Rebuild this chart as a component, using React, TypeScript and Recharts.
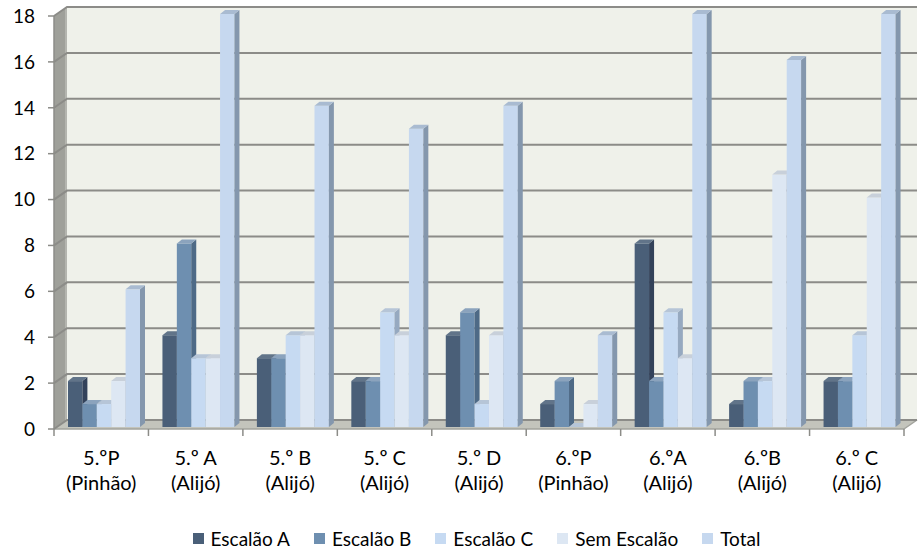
import React from 'react';
import { BarChart, Bar, XAxis, YAxis, CartesianGrid, Legend } from 'recharts';

const classes = ['5.ºP', '5.º A', '5.º B', '5.º C', '5.º D', '6.ºP', '6.ºA', '6.ºB', '6.º C'];
const schools = ['(Pinhão)', '(Alijó)', '(Alijó)', '(Alijó)', '(Alijó)', '(Pinhão)', '(Alijó)', '(Alijó)', '(Alijó)'];
const escalaoA = [2, 4, 3, 2, 4, 1, 8, 1, 2];
const escalaoB = [1, 8, 3, 2, 5, 2, 2, 2, 2];
const escalaoC = [1, 3, 4, 5, 1, 0, 5, 2, 4];
const semEscalao = [2, 3, 4, 4, 4, 1, 3, 11, 10];
const total = [6, 18, 14, 13, 14, 4, 18, 16, 18];
const yTicks = [0, 2, 4, 6, 8, 10, 12, 14, 16, 18];

const seriesNames = ['Escalão A', 'Escalão B', 'Escalão C', 'Sem Escalão', 'Total'];
const seriesKeys = ['a', 'b', 'c', 's', 't'];

const data = classes.map((c, i) => ({
  cls: c,
  school: schools[i],
  a: escalaoA[i],
  b: escalaoB[i],
  c: escalaoC[i],
  s: semEscalao[i],
  t: total[i],
}));

const FONT = 'Lato, "DejaVu Sans", sans-serif';
const W = 921;
const H = 551;
const XH = 30;
const M = { top: 16, right: 17, bottom: 122 - XH, left: 0 };
const YW = 54;
const PL = M.left + YW;
const PR = W - M.right;
const PT = M.top;
const PB = H - M.bottom - XH;
const BX = 13; // depth offset x
const BY = 9; // depth offset y

const styles = [
  { face: '#4a5f78', side: '#33425a', top: '#617489' },
  { face: '#6e8fb0', side: '#4e6a86', top: '#8ba3bd' },
  { face: '#c6daf2', side: '#96a9c0', top: '#b6c5d7' },
  { face: '#dde7f3', side: '#abb6c4', top: '#c8d0da' },
  { face: '#c6d8ef', side: '#8497ad', top: '#a9bbd1' },
];

const DX = 3;
const DY = 2;
const SD = 5;
const SV = 4;

const makeShape = (st: { face: string; side: string; top: string }) => (p: any) => {
  const { x, y, width: w } = p;
  const h = Math.max(0, p.height || 0);
  if (x == null || y == null) return <g />;
  const X = x + DX;
  const Y = y - DY;
  return (
    <g>
      {h > 0 && <rect x={X} y={Y} width={w} height={h} fill={st.face} />}
      {h > 0 && (
        <polygon
          points={`${X + w},${Y} ${X + w + SD},${Y - SV} ${X + w + SD},${Y + h - SV} ${X + w},${Y + h}`}
          fill={st.side}
        />
      )}
      <polygon
        points={`${X},${Y} ${X + SD},${Y - SV} ${X + w + SD},${Y - SV} ${X + w},${Y}`}
        fill={st.top}
      />
    </g>
  );
};

const gridLine = (p: any) => {
  const { x1, y1, x2, index } = p;
  const line = (
    <polyline
      points={`${x1},${y1} ${x1 + BX},${y1 - BY} ${x2 + BX},${y1 - BY}`}
      stroke="#8c8c88"
      strokeWidth={2}
      fill="none"
    />
  );
  if (index === 0) {
    return (
      <g key={`g-${index}`}>
        <rect x={PL + BX} y={PT - BY} width={PR - PL} height={PB - PT} fill="#eff1ea" />
        <polygon
          points={`${PL},${PT} ${PL + BX},${PT - BY} ${PL + BX},${PB - BY} ${PL},${PB}`}
          fill="#9fa09a"
        />
        <line x1={PL + BX - 1} y1={PT - BY} x2={PL + BX - 1} y2={PB - BY} stroke="#c9cac4" strokeWidth={1} />
        <polygon
          points={`${PL},${PB} ${PL + BX},${PB - BY} ${PR + BX},${PB - BY} ${PR},${PB}`}
          fill="#c3c4bc"
        />
        <line x1={PL} y1={PB} x2={PR} y2={PB} stroke="#a2a39d" strokeWidth={1.5} />
        <line x1={PR} y1={PB} x2={PR + BX} y2={PB - BY} stroke="#a2a39d" strokeWidth={1.5} />
        {line}
      </g>
    );
  }
  return <g key={`g-${index}`}>{line}</g>;
};

const band = (PR - PL) / classes.length;

const XTick = (p: any) => {
  const { x, y, payload, index } = p;
  const idx = payload && payload.index != null ? payload.index : index;
  const d = data[idx];
  const left = x - band / 2;
  const isLast = idx === classes.length - 1;
  return (
    <g>
      <line x1={left} y1={y} x2={left} y2={y + 7} stroke="#8c8c88" strokeWidth={1.5} />
      {isLast && <line x1={x + band / 2} y1={y} x2={x + band / 2} y2={y + 7} stroke="#8c8c88" strokeWidth={1.5} />}
      <text x={x} y={y + 36} textAnchor="middle" fontFamily={FONT} fontSize={20} fill="#000">
        {payload.value}
      </text>
      <text x={x} y={y + 61} textAnchor="middle" fontFamily={FONT} fontSize={20} fill="#000">
        {d ? d.school : ''}
      </text>
    </g>
  );
};

const renderLegend = (props: any) => {
  const payload = props.payload || [];
  return (
    <div style={{ display: 'flex', justifyContent: 'center', fontFamily: FONT, fontSize: 19, color: '#000', lineHeight: '23px' }}>
      {payload.map((e: any, i: number) => (
        <span key={i} style={{ display: 'flex', alignItems: 'center', marginLeft: i === 0 ? 0 : 24 }}>
          <span style={{ display: 'inline-block', width: 11, height: 11, background: e.color, marginRight: 7 }} />
          {e.value}
        </span>
      ))}
    </div>
  );
};

export default function App() {
  return (
    <div style={{ position: 'absolute', left: 0, top: 0, width: W, height: H, background: '#fff' }}>
      <BarChart width={W} height={H} data={data} margin={M} barGap={0} barCategoryGap={0}>
        <CartesianGrid vertical={false} horizontal={gridLine} />
        <XAxis
          dataKey="cls"
          height={XH}
          axisLine={false}
          tickLine={false}
          tickSize={0}
          tickMargin={0}
          interval={0}
          tick={<XTick />}
        />
        <YAxis
          width={YW}
          domain={[0, 18]}
          ticks={yTicks}
          interval={0}
          axisLine={{ stroke: '#8c8c88', strokeWidth: 1.5 }}
          tickLine={{ stroke: '#8c8c88', strokeWidth: 1.5 }}
          tickSize={6}
          tickMargin={13}
          tick={{ fontFamily: FONT, fontSize: 19, fill: '#000' }}
        />
        <Legend
          layout="horizontal"
          verticalAlign="middle"
          align="center"
          content={renderLegend}
          wrapperStyle={{ left: 16, top: 527, width: W }}
        />
        {seriesKeys.map((k, i) => (
          <Bar
            key={k}
            dataKey={k}
            name={seriesNames[i]}
            fill={styles[i].face}
            barSize={14.4}
            isAnimationActive={false}
            shape={makeShape(styles[i])}
          />
        ))}
      </BarChart>
    </div>
  );
}
